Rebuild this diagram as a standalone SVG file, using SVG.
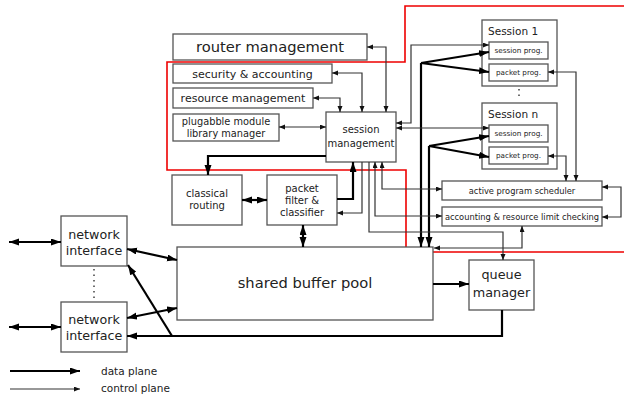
<svg xmlns="http://www.w3.org/2000/svg" width="624" height="395" viewBox="0 0 624 395">
<style>
.box{fill:#fff;stroke:#555;stroke-width:1.3}
.t{font-family:"DejaVu Sans",Verdana,sans-serif;fill:#222;text-anchor:middle}
.thick{fill:none;stroke:#000;stroke-width:2.2}
.thin{fill:none;stroke:#333;stroke-width:1.2}
.red{fill:none;stroke:#e00;stroke-width:1.6}
.dots{fill:none;stroke:#222;stroke-width:1.3;stroke-dasharray:1.5,4}
</style>
<defs>
<marker id="A" markerUnits="userSpaceOnUse" markerWidth="11" markerHeight="8" refX="10" refY="3.5" orient="auto-start-reverse"><path d="M0,0 L10,3.5 L0,7 z" fill="#000"/></marker>
<marker id="a" markerUnits="userSpaceOnUse" markerWidth="7" markerHeight="6" refX="6" refY="2.5" orient="auto-start-reverse"><path d="M0,0 L6,2.5 L0,5 z" fill="#111"/></marker>
</defs>
<path class="red" d="M624,6 H405 V62 H167 V170 H406 V252 H624"/>
<g id="router-management"><rect class="box" x="173" y="34" width="194" height="26"/><text class="t" x="270" y="52" font-size="14.7">router management</text></g>
<g id="security-accounting"><rect class="box" x="173" y="64" width="159" height="19"/><text class="t" x="252.5" y="77.5" font-size="11">security &amp; accounting</text></g>
<g id="resource-management"><rect class="box" x="173" y="88" width="140" height="20"/><text class="t" x="243" y="102" font-size="11">resource management</text></g>
<g id="plugabble"><rect class="box" x="173" y="114" width="106" height="27"/><text class="t" x="226" y="124.5" font-size="9.8">plugabble module</text><text class="t" x="226" y="136.5" font-size="9.8">library manager</text></g>
<g id="session-management"><rect class="box" x="326" y="112" width="70" height="50"/><text class="t" x="361" y="132.5" font-size="10">session</text><text class="t" x="361" y="146.5" font-size="10">management</text></g>
<g id="classical-routing"><rect class="box" x="172" y="175" width="70" height="50"/><text class="t" x="207" y="196.5" font-size="10">classical</text><text class="t" x="207" y="208.5" font-size="10">routing</text></g>
<g id="packet-filter"><rect class="box" x="267" y="175" width="70" height="50"/><text class="t" x="302" y="191.5" font-size="10">packet</text><text class="t" x="302" y="203.5" font-size="10">filter &amp;</text><text class="t" x="302" y="215.5" font-size="10">classifier</text></g>
<g id="shared-buffer-pool"><rect class="box" x="177" y="247" width="256" height="73"/><text class="t" x="305" y="288" font-size="14.7">shared buffer pool</text></g>
<g id="queue-manager"><rect class="box" x="469" y="260" width="65" height="50"/><text class="t" x="501.5" y="278.5" font-size="12.8">queue</text><text class="t" x="501.5" y="296.5" font-size="12.8">manager</text></g>
<g id="network-interface-1"><rect class="box" x="61" y="216" width="66" height="50"/><text class="t" x="94" y="238.5" font-size="12.7">network</text><text class="t" x="94" y="254.5" font-size="12.7">interface</text></g>
<g id="network-interface-2"><rect class="box" x="61" y="302" width="66" height="50"/><text class="t" x="94" y="323.5" font-size="12.7">network</text><text class="t" x="94" y="339.5" font-size="12.7">interface</text></g>
<path class="dots" d="M94,269 V299"/>
<g id="session-1"><rect class="box" x="482" y="20" width="75" height="66"/><text class="t" x="488" y="35" font-size="10.5" style="text-anchor:start">Session 1</text>
<rect class="box" x="489" y="42" width="59" height="17"/><text class="t" x="518.5" y="53" font-size="7.3">session prog.</text>
<rect class="box" x="489" y="64" width="59" height="17"/><text class="t" x="518.5" y="75" font-size="7.2">packet prog.</text></g>
<path class="dots" d="M519,89 V100"/>
<g id="session-n"><rect class="box" x="482" y="103" width="75" height="66"/><text class="t" x="488" y="118" font-size="10.5" style="text-anchor:start">Session n</text>
<rect class="box" x="489" y="125" width="59" height="17"/><text class="t" x="518.5" y="136" font-size="7.3">session prog.</text>
<rect class="box" x="489" y="147" width="59" height="17"/><text class="t" x="518.5" y="158" font-size="7.2">packet prog.</text></g>
<g id="active-program-scheduler"><rect class="box" x="442" y="181" width="160" height="19"/><text class="t" x="522" y="193.5" font-size="8.3">active program scheduler</text></g>
<g id="accounting-limit"><rect class="box" x="442" y="207" width="160" height="19"/><text class="t" x="522" y="219.5" font-size="8.3">accounting &amp; resource limit checking</text></g>
<g id="connectors">
<path class="thick" d="M9,242 H61" marker-start="url(#A)" marker-end="url(#A)"/>
<path class="thick" d="M9,327 H61" marker-start="url(#A)" marker-end="url(#A)"/>
<path class="thick" d="M127,249 L177,260" marker-start="url(#A)" marker-end="url(#A)"/>
<path class="thick" d="M127,318 L177,308" marker-start="url(#A)" marker-end="url(#A)"/>
<path class="thick" d="M502,310 V336 H127" marker-end="url(#A)"/>
<path class="thick" d="M172,336 L128,265" marker-end="url(#A)"/>
<path class="thick" d="M433,284 H469" marker-end="url(#A)"/>
<path class="thick" d="M303,225 V247" marker-start="url(#A)" marker-end="url(#A)"/>
<path class="thick" d="M242,200 H267" marker-start="url(#A)" marker-end="url(#A)"/>
<path class="thick" d="M326,156 H208 V175" marker-end="url(#A)"/>
<path class="thick" d="M337,199 H353 V162" marker-end="url(#A)"/>
<path class="thick" d="M421,63 V247" marker-end="url(#A)"/>
<path class="thick" d="M421,63 L489,52" marker-end="url(#A)"/>
<path class="thick" d="M421,63 L489,72" marker-end="url(#A)"/>
<path class="thick" d="M429,146 V247" marker-end="url(#A)"/>
<path class="thick" d="M429,146 L489,136" marker-end="url(#A)"/>
<path class="thick" d="M429,146 L489,157" marker-end="url(#A)"/>
<path class="thin" d="M367,47 H386 V112" marker-start="url(#a)" marker-end="url(#a)"/>
<path class="thin" d="M332,73 H362 V112" marker-start="url(#a)" marker-end="url(#a)"/>
<path class="thin" d="M313,98 H340 V112" marker-start="url(#a)" marker-end="url(#a)"/>
<path class="thin" d="M279,127 H326" marker-start="url(#a)" marker-end="url(#a)"/>
<path class="thin" d="M362,162 V213 H337" marker-end="url(#a)"/>
<path class="thin" d="M369,162 V232 H503 V260" marker-end="url(#a)"/>
<path class="thin" d="M382,162 V189 H442" marker-start="url(#a)" marker-end="url(#a)"/>
<path class="thin" d="M375,162 V216 H442" marker-start="url(#a)" marker-end="url(#a)"/>
<path class="thin" d="M396,123 H411 V45 H489" marker-start="url(#a)" marker-end="url(#a)"/>
<path class="thin" d="M396,128 H489" marker-start="url(#a)" marker-end="url(#a)"/>
<path class="thin" d="M548,72 H576 V181" marker-start="url(#a)" marker-end="url(#a)"/>
<path class="thin" d="M548,156 H566 V181" marker-start="url(#a)" marker-end="url(#a)"/>
<path class="thin" d="M602,187 H621 V217 H602" marker-start="url(#a)" marker-end="url(#a)"/>
<path class="thin" d="M522,226 V248 H434" marker-start="url(#a)" marker-end="url(#a)"/>
</g>
<g id="legend">
<path class="thick" d="M10,371 H80" marker-end="url(#A)"/>
<path class="thin" d="M10,389 H80" marker-end="url(#a)"/>
<text class="t" x="101" y="374.5" font-size="10.5" style="text-anchor:start">data plane</text>
<text class="t" x="101" y="392" font-size="10.5" style="text-anchor:start">control plane</text>
</g>
</svg>
